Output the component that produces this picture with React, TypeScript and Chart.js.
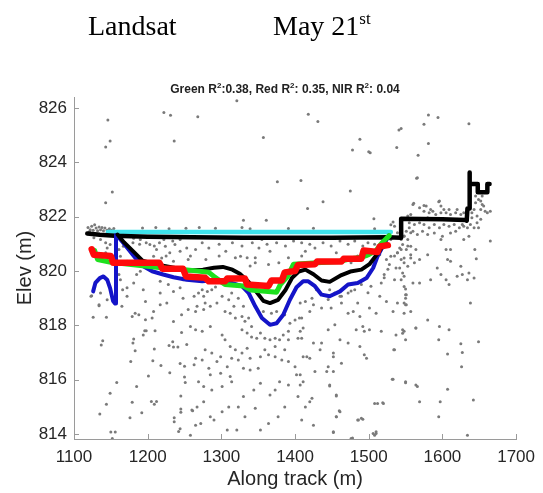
import React, { useEffect, useRef } from "react";
import { Chart, registerables } from "chart.js";

Chart.register(...registerables);

// ---------- axes ----------
const xTicks = [1100, 1200, 1300, 1400, 1500, 1600, 1700];
const yTicks = [814, 816, 818, 820, 822, 824, 826];
const xRange = [1100, 1700];
const yRange = [813.82, 826.4];

// ---------- lines ----------
const cyanLine: [number, number][] = [[1146, 821.43], [1530, 821.43]];

const blackProfile: [number, number][] = [
  [1118, 821.38], [1135, 821.33], [1155, 821.3], [1200, 821.26], [1260, 821.24], [1330, 821.22],
  [1450, 821.22], [1526, 821.24], [1544, 821.22], [1544, 821.92], [1600, 821.9], [1631, 821.88],
  [1633, 821.85], [1634, 822.3], [1637, 822.3], [1637, 823.62], [1637, 823.2], [1648, 823.2],
  [1648, 822.9], [1661, 822.9], [1661, 823.2], [1664, 823.2],
];

const blackModel: [number, number][] = [
  [1159, 821.34], [1168, 821.05], [1180, 820.73], [1193, 820.38], [1210, 820.25], [1230, 820.15],
  [1256, 820.02], [1275, 820.05], [1290, 820.12], [1302, 820.15], [1315, 820.05], [1325, 819.9],
  [1337, 819.6], [1347, 819.25], [1357, 818.9], [1366, 818.82], [1377, 818.94], [1387, 819.3],
  [1396, 819.75], [1405, 819.98], [1414, 820.05], [1425, 819.88], [1436, 819.65], [1447, 819.6],
  [1463, 819.85], [1475, 819.98], [1490, 820.05], [1501, 820.25], [1508, 820.5], [1515, 820.75],
  [1521, 821.05], [1527, 821.3],
];

const blueModel: [number, number][] = [
  [1126, 819.25], [1129, 819.56], [1135, 819.74], [1140, 819.8], [1145, 819.68], [1149, 819.37],
  [1153, 818.9], [1156, 818.8], [1157, 821.32], [1160, 821.25], [1167, 821.03], [1176, 820.73],
  [1185, 820.42], [1194, 820.17], [1206, 819.99], [1221, 819.87], [1235, 819.77], [1253, 819.68],
  [1274, 819.62], [1296, 819.68], [1314, 819.56], [1328, 819.44], [1337, 819.19], [1346, 818.7],
  [1355, 818.27], [1366, 818.02], [1375, 818.08], [1384, 818.39], [1393, 818.94], [1402, 819.4],
  [1411, 819.62], [1418, 819.62], [1427, 819.44], [1436, 819.13], [1447, 819.07], [1461, 819.25],
  [1472, 819.5], [1485, 819.56], [1497, 819.74], [1506, 820.11], [1512, 820.54], [1517, 820.8],
  [1522, 821.05], [1527, 821.28],
];

const greenModel: [number, number][] = [
  [1124, 820.8], [1128, 820.75], [1132, 820.42], [1150, 820.32], [1190, 820.2], [1225, 820.1],
  [1250, 820.05], [1283, 819.95], [1290, 819.8], [1300, 819.6], [1305, 819.5], [1330, 819.45],
  [1340, 819.3], [1375, 819.22], [1380, 819.5], [1390, 819.8], [1398, 820.25], [1430, 820.3],
  [1460, 820.35], [1475, 820.45], [1490, 820.5], [1500, 820.6], [1510, 820.75], [1517, 821.0],
  [1524, 821.2], [1528, 821.3],
];

const redModel: [number, number][] = [
  [1124, 820.8], [1127, 820.6], [1150, 820.55], [1153, 820.3], [1216, 820.3], [1220, 820.08],
  [1248, 820.08], [1252, 819.8], [1278, 819.75], [1283, 819.62], [1305, 819.62], [1308, 819.72],
  [1332, 819.72], [1335, 819.5], [1364, 819.45], [1368, 819.65], [1382, 819.65], [1386, 819.95],
  [1400, 820.0], [1404, 820.22], [1427, 820.25], [1430, 820.35], [1463, 820.35], [1466, 820.45],
  [1490, 820.45], [1493, 820.75], [1512, 820.7], [1515, 820.9], [1526, 820.95],
];

// ---------- photon scatter ----------
const scatterTop: [number, number][] = [
  [1321, 826.26], [1222, 825.83], [1231, 825.73], [1268, 825.67], [1146, 825.55], [1149, 824.78],
  [1143, 824.56], [1236, 824.78], [1357, 824.91], [1376, 823.28], [1152, 822.91], [1143, 822.51],
  [1330, 821.87], [1361, 821.87], [1418, 825.77], [1431, 825.5], [1581, 825.74], [1594, 825.65],
  [1575, 825.4], [1636, 825.42], [1544, 825.24], [1541, 825.19], [1488, 824.85], [1581, 824.69],
  [1478, 824.45], [1500, 824.39], [1502, 824.35], [1538, 824.54], [1567, 824.26], [1565, 823.41],
  [1408, 823.33], [1475, 822.94], [1438, 822.55], [1417, 822.3], [1507, 821.92], [1595, 822.55],
  [1560, 822.45], [1575, 822.41],
];

const scatterSurface: [number, number][] = [
  [1119, 821.6], [1121, 821.45], [1122, 821.52], [1124, 821.65], [1126, 821.5], [1128, 821.7],
  [1130, 821.58], [1132, 821.48], [1134, 821.62], [1136, 821.52], [1138, 821.6], [1140, 821.48],
  [1142, 821.58], [1145, 821.5], [1148, 821.55], [1151, 821.5], [1154, 821.56],
  [1193, 821.58], [1211, 821.6], [1229, 821.55], [1252, 821.57], [1270, 821.6], [1292, 821.57],
  [1328, 821.6], [1339, 821.55], [1391, 821.56], [1425, 821.57], [1508, 821.55], [1530, 821.7],
  [1535, 821.65], [1533, 821.8],
  [1127, 821.22], [1136, 821.16], [1143, 821.04], [1145, 820.85], [1149, 820.97], [1143, 820.67],
  [1152, 820.54], [1161, 820.79], [1163, 820.54], [1167, 820.91], [1172, 820.36], [1203, 820.97],
  [1212, 820.79], [1224, 820.91], [1230, 820.67], [1208, 820.54], [1219, 820.48], [1237, 820.97],
  [1244, 820.73], [1253, 820.85], [1255, 820.42], [1235, 820.36], [1190, 821.16], [1181, 821.2],
  [1222, 821.16], [1244, 821.16],
  [1175, 820.85], [1180, 821.04], [1189, 820.98], [1198, 821.04], [1209, 820.92], [1216, 821.04],
  [1234, 821.1], [1265, 820.79], [1274, 821.04], [1283, 820.85], [1297, 820.98], [1306, 820.73],
  [1315, 821.04], [1328, 820.92], [1342, 821.04], [1225, 820.55], [1258, 820.55], [1279, 820.42],
  [1297, 820.55], [1319, 820.49], [1335, 820.49], [1346, 820.3],
  [1355, 821.16], [1362, 820.98], [1375, 821.04], [1387, 820.92], [1398, 821.1], [1409, 821.04],
  [1420, 820.98], [1427, 820.85], [1438, 821.04], [1449, 820.92], [1461, 821.1], [1472, 820.98],
  [1481, 821.1], [1492, 820.92], [1499, 821.04], [1508, 820.98], [1351, 820.85], [1414, 820.73],
  [1456, 820.67], [1409, 820.55], [1391, 820.49], [1378, 820.3], [1364, 820.24], [1346, 820.49],
  [1339, 820.18], [1485, 820.55], [1476, 820.3], [1497, 820.55], [1539, 821.41], [1544, 821.65],
  [1548, 821.29], [1553, 820.92], [1557, 821.41],
];

const scatterLeft: [number, number][] = [
  [1185, 819.87], [1190, 819.99], [1181, 819.56], [1172, 819.38], [1194, 819.31], [1145, 818.94],
  [1134, 818.76], [1123, 819.07], [1165, 818.7], [1172, 819.07], [1197, 818.88], [1208, 818.51],
  [1217, 818.76], [1226, 818.82], [1183, 818.45], [1179, 818.33], [1188, 818.39], [1206, 818.27],
  [1197, 818.21], [1235, 818.14], [1246, 818.39], [1255, 818.58], [1248, 819.0], [1244, 819.38],
  [1235, 819.25], [1217, 819.19], [1228, 819.5], [1217, 819.62], [1248, 819.68], [1161, 819.87],
  [1163, 819.68], [1166, 819.31], [1136, 819.19],
  [1124, 819.09], [1126, 818.3], [1144, 818.3], [1134, 818.72], [1139, 817.43], [1137, 817.28],
  [1181, 817.5], [1180, 817.35], [1183, 817.07], [1194, 817.65], [1196, 817.8], [1198, 817.8],
  [1210, 817.8], [1209, 817.13], [1177, 816.67], [1207, 816.7], [1218, 816.52], [1229, 817.26],
  [1234, 817.4], [1235, 817.2], [1241, 817.2], [1246, 817.74], [1253, 817.3], [1244, 816.6],
  [1250, 816.5], [1230, 816.26], [1201, 816.14], [1158, 815.9], [1250, 816.1], [1251, 815.9],
  [1149, 815.5], [1185, 815.75], [1144, 815.1], [1179, 815.17], [1205, 815.2], [1209, 815.1],
  [1212, 815.2], [1135, 814.74], [1192, 814.79], [1176, 814.6], [1245, 815.4], [1245, 814.92],
  [1245, 814.8], [1261, 814.86], [1236, 814.6], [1236, 814.45], [1244, 814.2], [1242, 814.1],
  [1150, 814.08], [1156, 814.08], [1152, 813.84],
];

const scatterMiddle: [number, number][] = [
  [1326, 820.54], [1366, 820.73],
  [1274, 819.31], [1269, 819.19], [1276, 819.07], [1281, 819.25], [1287, 819.31], [1292, 819.41],
  [1263, 819.07], [1267, 818.7], [1276, 818.58], [1265, 818.51], [1285, 818.7], [1278, 818.82],
  [1294, 818.82], [1301, 819.07], [1310, 818.94], [1314, 819.19], [1323, 819.0], [1330, 818.7],
  [1317, 818.7], [1312, 818.45], [1305, 818.51], [1319, 818.27], [1328, 818.33], [1332, 818.15],
  [1337, 818.27], [1341, 817.96], [1328, 817.84], [1335, 817.72], [1341, 817.57], [1348, 817.53],
  [1353, 817.72], [1359, 817.53], [1366, 817.47], [1373, 817.53], [1379, 817.47], [1384, 817.65],
  [1391, 817.78], [1393, 818.08], [1400, 818.2], [1406, 818.27], [1411, 817.9], [1404, 817.53],
  [1386, 818.39], [1375, 818.51], [1368, 818.45], [1357, 818.51],
  [1258, 817.96], [1265, 817.84], [1274, 817.78], [1285, 817.96], [1301, 817.65], [1305, 817.47],
  [1312, 817.22], [1319, 817.1], [1328, 816.98], [1335, 817.16], [1339, 816.79], [1299, 816.85],
  [1287, 816.98], [1278, 817.1], [1265, 816.79], [1263, 816.55], [1274, 816.73], [1283, 816.42],
  [1294, 816.67], [1308, 816.48], [1314, 816.79], [1323, 816.73], [1330, 816.42], [1339, 816.36],
  [1350, 816.42], [1353, 816.85], [1364, 816.92], [1373, 816.85], [1382, 816.73], [1391, 816.67],
  [1400, 816.48], [1411, 816.85], [1373, 817.22], [1359, 817.1], [1386, 817.1], [1391, 817.47],
  [1269, 815.93], [1276, 815.75], [1285, 816.18], [1299, 816.24], [1312, 816.12], [1314, 815.93],
  [1301, 815.75], [1287, 815.62], [1276, 815.19], [1267, 815.0], [1260, 814.89], [1285, 814.64],
  [1301, 814.82], [1310, 815.0], [1323, 815.0], [1330, 815.38], [1344, 815.62], [1353, 815.87],
  [1366, 815.44], [1373, 815.62], [1379, 815.93], [1391, 815.81], [1402, 816.18], [1411, 815.93],
  [1404, 815.38], [1386, 815.0], [1377, 814.64], [1364, 814.39], [1353, 814.15], [1346, 814.95],
  [1332, 814.64], [1321, 814.15], [1308, 814.15], [1290, 814.52], [1272, 814.39], [1265, 814.33],
  [1258, 813.96],
  [1445, 818.95], [1425, 818.76], [1463, 819.07], [1476, 819.26], [1499, 819.2], [1521, 819.75],
  [1515, 819.07], [1526, 820.06], [1535, 820.55], [1530, 821.16],
];

const scatterRight: [number, number][] = [
  [1515, 820.6], [1524, 820.42], [1530, 820.54], [1539, 820.67], [1548, 820.48], [1557, 820.6],
  [1528, 820.24], [1537, 820.11], [1553, 820.17], [1562, 820.3], [1521, 819.87], [1535, 819.68],
  [1548, 819.81], [1560, 819.56], [1517, 819.56], [1503, 819.44], [1490, 819.5], [1481, 819.31],
  [1472, 819.19], [1461, 819.07], [1454, 819.19], [1447, 819.31], [1438, 819.13], [1429, 819.31],
  [1423, 819.0], [1414, 818.88], [1407, 818.82], [1409, 818.27], [1420, 818.51], [1436, 818.64],
  [1449, 818.64], [1463, 818.82], [1472, 818.45], [1479, 818.51], [1485, 818.82], [1488, 818.33],
  [1501, 818.64], [1510, 818.45], [1524, 818.88], [1533, 818.51], [1539, 818.82], [1550, 819.0],
  [1550, 818.76], [1564, 817.9], [1548, 818.45], [1407, 817.78], [1409, 817.53], [1425, 817.35],
  [1434, 817.1], [1436, 817.35], [1445, 817.84], [1454, 818.02], [1461, 817.47], [1472, 817.35],
  [1483, 817.84], [1492, 817.96], [1494, 817.78], [1501, 817.84], [1517, 817.78], [1537, 817.65],
  [1548, 817.78], [1550, 817.47], [1535, 817.1], [1416, 816.85], [1420, 816.79], [1452, 816.98],
  [1452, 816.85], [1463, 816.61], [1488, 817.22], [1494, 816.92], [1497, 816.79], [1445, 816.48],
  [1443, 816.3], [1452, 816.3], [1427, 816.3], [1407, 816.18], [1407, 815.81], [1447, 815.81],
  [1456, 815.44], [1423, 815.32], [1420, 815.19], [1414, 815.0], [1461, 814.82], [1456, 814.64],
  [1485, 814.52], [1490, 814.58], [1425, 814.33], [1409, 814.52], [1452, 814.09], [1476, 813.84],
  [1506, 814.02], [1510, 814.09], [1533, 816.02], [1550, 815.93], [1512, 815.13], [1520, 815.13],
  [1564, 815.81],
  [1649, 817.4], [1625, 817.32], [1627, 817.0], [1626, 816.48], [1607, 816.95], [1595, 817.47],
  [1607, 815.65], [1595, 814.64], [1597, 815.19], [1569, 815.19], [1566, 815.75], [1550, 815.89],
  [1532, 816.02], [1534, 817.1], [1634, 813.96], [1642, 815.25], [1508, 815.13], [1519, 815.15],
  [1508, 813.96], [1510, 814.02], [1486, 814.52], [1492, 814.55], [1478, 813.86], [1460, 814.86],
  [1456, 814.64], [1452, 814.06], [1447, 815.77], [1456, 815.4], [1548, 818.82], [1550, 819.13],
  [1550, 819.34],
];

const scatterStep: [number, number][] = [
  [1566, 823.43], [1561, 822.49], [1596, 822.57], [1598, 822.39], [1569, 822.33], [1575, 822.2],
  [1582, 822.14], [1587, 822.2], [1591, 822.08], [1598, 822.14], [1605, 822.14], [1611, 822.08],
  [1618, 822.14], [1625, 822.08], [1629, 822.14], [1557, 822.08], [1553, 822.02], [1548, 821.9],
  [1555, 821.77], [1562, 821.71], [1569, 821.77], [1575, 821.71], [1582, 821.59], [1589, 821.71],
  [1596, 821.59], [1602, 821.71], [1609, 821.65], [1616, 821.71], [1623, 821.59], [1629, 821.65],
  [1618, 821.46], [1611, 821.4], [1600, 821.28], [1598, 821.16], [1589, 821.4], [1580, 821.34],
  [1573, 821.46], [1566, 821.34], [1560, 821.46], [1555, 821.59], [1551, 821.46], [1548, 821.28],
  [1553, 821.16], [1544, 821.16], [1546, 820.97], [1542, 820.85], [1551, 820.79], [1557, 820.91],
  [1564, 820.79], [1569, 820.42], [1557, 820.48], [1548, 820.3], [1544, 820.42], [1542, 820.11],
  [1546, 819.93], [1580, 820.6], [1605, 820.79], [1611, 820.79], [1607, 820.42], [1611, 820.36],
  [1625, 820.17], [1593, 820.11], [1598, 819.87], [1605, 819.68], [1609, 819.5], [1584, 819.68],
  [1620, 819.81], [1627, 819.87], [1636, 819.93], [1634, 819.68], [1643, 819.74], [1569, 819.56],
  [1544, 819.68], [1548, 819.43], [1551, 819.13], [1551, 818.76], [1557, 818.51], [1580, 818.2],
  [1596, 817.96], [1609, 817.84], [1546, 817.84], [1546, 817.71], [1564, 817.9], [1638, 818.82],
  [1644, 820.79], [1646, 820.45], [1665, 821.1], [1629, 821.16], [1636, 821.28], [1643, 821.59],
  [1647, 821.77], [1649, 821.59], [1652, 821.9], [1647, 822.02], [1652, 822.26], [1658, 822.2],
  [1665, 822.2], [1654, 822.45], [1649, 822.63], [1654, 822.76], [1645, 822.51], [1645, 822.76],
  [1652, 822.57], [1656, 822.39], [1661, 822.14], [1643, 822.26], [1640, 822.14], [1640, 821.96],
  [1634, 821.9], [1627, 821.71], [1634, 821.59], [1638, 821.71], [1580, 821.96], [1571, 821.9],
  [1564, 821.9], [1584, 821.9], [1593, 821.9], [1607, 821.9], [1620, 821.9], [1578, 822.39],
  [1584, 822.26], [1602, 822.26], [1609, 822.26], [1620, 822.26], [1544, 820.79], [1539, 820.67],
];

const toXY = (arr: [number, number][]) => arr.map(([x, y]) => ({ x, y }));

const FONT = "'Liberation Sans', Arial, Helvetica, sans-serif";
const AXIS_COLOR = "#9a9a9a";

export default function App() {
  const ref = useRef<HTMLCanvasElement | null>(null);

  useEffect(() => {
    if (!ref.current) return;
    const inwardTicks = {
      id: "inwardTicks",
      afterDraw(chart: any) {
        const { ctx, chartArea, scales } = chart;
        ctx.save();
        ctx.strokeStyle = AXIS_COLOR;
        ctx.lineWidth = 1;
        ctx.beginPath();
        for (const v of xTicks) {
          const px = Math.round(scales.x.getPixelForValue(v)) + 0.5;
          ctx.moveTo(px, chartArea.bottom);
          ctx.lineTo(px, chartArea.bottom - 5);
        }
        for (const v of yTicks) {
          const py = Math.round(scales.y.getPixelForValue(v)) + 0.5;
          ctx.moveTo(chartArea.left, py);
          ctx.lineTo(chartArea.left + 5, py);
        }
        ctx.stroke();
        ctx.restore();
      },
    };

    const lineDs = (label: string, data: [number, number][], color: string, width: number, order: number) => ({
      type: "scatter" as const,
      label,
      data: toXY(data),
      showLine: true,
      borderColor: color,
      backgroundColor: color,
      borderWidth: width,
      pointRadius: 0,
      fill: false,
      tension: 0,
      borderJoinStyle: "round" as const,
      borderCapStyle: "round" as const,
      order,
    });

    const allScatter = [
      ...scatterTop, ...scatterSurface, ...scatterLeft, ...scatterMiddle, ...scatterRight, ...scatterStep,
    ];

    const chart = new Chart(ref.current, {
      type: "scatter",
      data: {
        datasets: [
          lineDs("Red", redModel, "#ff0a0a", 6.5, 1),
          lineDs("Green", greenModel, "#1ee01e", 5, 2),
          lineDs("Model", blackModel, "#000000", 4, 3),
          lineDs("Blue", blueModel, "#1414c8", 4, 4),
          lineDs("Profile", blackProfile, "#000000", 4.5, 5),
          lineDs("Surface", cyanLine, "#3fe3ec", 4.5, 6),
          {
            type: "scatter" as const,
            label: "Photons",
            data: toXY(allScatter),
            pointRadius: 1.5,
            pointBackgroundColor: "#7a7a7a",
            pointBorderWidth: 0,
            borderWidth: 0,
            order: 10,
          },
        ],
      },
      options: {
        responsive: false,
        animation: false,
        devicePixelRatio: 1,
        layout: { padding: { top: 97, right: 24, left: 0, bottom: 0 } },
        plugins: { legend: { display: false }, tooltip: { enabled: false }, title: { display: false } },
        scales: {
          x: {
            type: "linear",
            min: xRange[0],
            max: xRange[1],
            afterBuildTicks: (scale: any) => {
              scale.ticks = xTicks.map((v) => ({ value: v }));
            },
            afterFit: (scale: any) => {
              scale.height = 54;
            },
            grid: { display: false, drawTicks: false },
            border: { display: true, color: AXIS_COLOR, width: 1 },
            ticks: {
              padding: 8,
              color: "#262626",
              font: { family: FONT, size: 17 },
              maxRotation: 0,
              callback: (v: any) => String(v),
            },
            title: {
              display: true,
              text: "Along track (m)",
              color: "#262626",
              font: { family: FONT, size: 20 },
              padding: { top: 0, bottom: 2 },
            },
          },
          y: {
            type: "linear",
            min: yRange[0],
            max: yRange[1],
            afterBuildTicks: (scale: any) => {
              scale.ticks = yTicks.map((v) => ({ value: v }));
            },
            afterFit: (scale: any) => {
              scale.width = 74;
            },
            grid: { display: false, drawTicks: false },
            border: { display: true, color: AXIS_COLOR, width: 1 },
            ticks: {
              padding: 7,
              color: "#262626",
              font: { family: FONT, size: 17 },
              callback: (v: any) => String(v),
            },
            title: {
              display: true,
              text: "Elev (m)",
              color: "#262626",
              font: { family: FONT, size: 20 },
              padding: { top: 13, bottom: 0 },
            },
          },
        },
      },
      plugins: [inwardTicks],
    } as any);

    return () => chart.destroy();
  }, []);

  const serif = "'Liberation Serif', 'Times New Roman', serif";

  return (
    <div style={{ position: "absolute", left: 0, top: 0, width: 543, height: 493, background: "#ffffff", overflow: "hidden" }}>
      <canvas ref={ref} width={543} height={493} style={{ position: "absolute", left: 0, top: 0, width: 543, height: 493 }} />
      <div style={{ position: "absolute", left: 88, top: 12, fontFamily: serif, fontSize: 28, lineHeight: 1, color: "#000", whiteSpace: "nowrap" }}>
        Landsat
      </div>
      <div style={{ position: "absolute", left: 273, top: 12, fontFamily: serif, fontSize: 28, lineHeight: 1, color: "#000", whiteSpace: "nowrap" }}>
        May 21<span style={{ fontSize: 17, position: "relative", top: -11 }}>st</span>
      </div>
      <div
        style={{
          position: "absolute", left: 85, top: 83, width: 400, textAlign: "center",
          fontFamily: FONT, fontSize: 12, fontWeight: "bold", lineHeight: 1, color: "#222", whiteSpace: "nowrap",
        }}
      >
        Green R<span style={{ fontSize: 8, position: "relative", top: -5 }}>2</span>:0.38, Red R
        <span style={{ fontSize: 8, position: "relative", top: -5 }}>2</span>: 0.35, NIR R
        <span style={{ fontSize: 8, position: "relative", top: -5 }}>2</span>: 0.04
      </div>
    </div>
  );
}
